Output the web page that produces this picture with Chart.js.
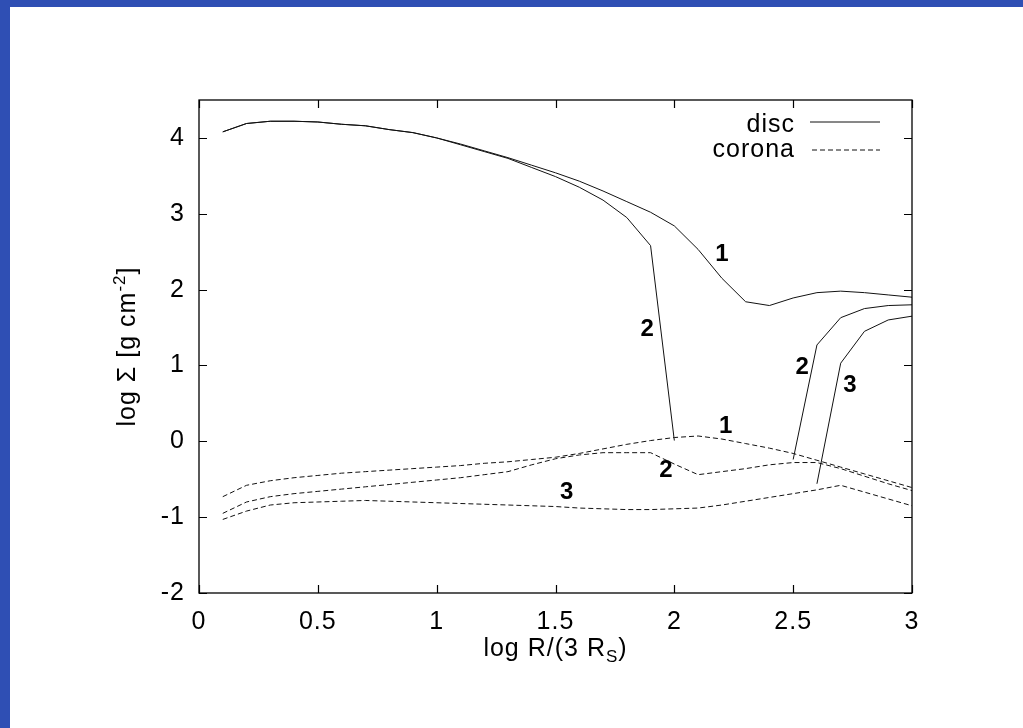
<!DOCTYPE html>
<html>
<head>
<meta charset="utf-8">
<script src="https://cdn.jsdelivr.net/npm/chart.js@4/dist/chart.umd.min.js"></script>
<style>
  html, body { margin: 0; padding: 0; width: 1023px; height: 728px; overflow: hidden; background: #2f4fb4; }
  #slide { position: absolute; left: 10px; top: 7px; width: 1013px; height: 721px; background: #fff; }
  canvas { display: block; }
</style>
</head>
<body>
<div id="slide"><canvas id="chart" width="1013" height="721"></canvas></div>
<script>
// log R/(3 R_S) sample points
const logR = [0.1, 0.2, 0.3, 0.4, 0.5, 0.6, 0.7, 0.8, 0.9, 1.0,
              1.1, 1.2, 1.3, 1.4, 1.5, 1.6, 1.7, 1.8, 1.9, 2.0,
              2.1, 2.2, 2.3, 2.4, 2.5, 2.6, 2.7, 2.8, 2.9, 3.0];

// disc surface density, models 1-3 (null = no disc)
const disc1 = [4.08, 4.19, 4.22, 4.22, 4.21, 4.18, 4.16, 4.11, 4.07, 4.00,
               3.92, 3.83, 3.74, 3.64, 3.54, 3.43, 3.30, 3.16, 3.02, 2.84,
               2.53, 2.15, 1.84, 1.79, 1.89, 1.96, 1.98, 1.96, 1.93, 1.90];
const disc2 = [4.08, 4.19, 4.22, 4.22, 4.21, 4.18, 4.16, 4.11, 4.07, 4.00,
               3.91, 3.82, 3.73, 3.61, 3.49, 3.35, 3.18, 2.95, 2.58, 0.01,
               null, null, null, null, -0.24, 1.27, 1.63, 1.75, 1.79, 1.80];
const disc3 = [null, null, null, null, null, null, null, null, null, null,
               null, null, null, null, null, null, null, null, null, null,
               null, null, null, null, null, -0.56, 1.03, 1.45, 1.60, 1.65];

// corona surface density, models 1-3
const corona1 = [-0.73, -0.58, -0.52, -0.48, -0.45, -0.42, -0.40, -0.38, -0.36, -0.34,
                 -0.32, -0.29, -0.27, -0.24, -0.21, -0.16, -0.10, -0.04, 0.01, 0.05,
                 0.07, 0.03, -0.03, -0.09, -0.16, -0.25, -0.34, -0.43, -0.52, -0.61];
const corona2 = [-0.95, -0.80, -0.73, -0.69, -0.66, -0.63, -0.60, -0.57, -0.54, -0.51,
                 -0.48, -0.44, -0.40, -0.31, -0.23, -0.18, -0.15, -0.15, -0.15, -0.30,
                 -0.44, -0.40, -0.36, -0.31, -0.28, -0.28, -0.36, -0.46, -0.56, -0.65];
const corona3 = [-1.03, -0.92, -0.84, -0.81, -0.80, -0.79, -0.78, -0.79, -0.80, -0.81,
                 -0.82, -0.83, -0.84, -0.85, -0.86, -0.88, -0.89, -0.90, -0.90, -0.89,
                 -0.88, -0.84, -0.79, -0.74, -0.69, -0.64, -0.58, -0.67, -0.76, -0.85];

const xTicks = [0, 0.5, 1, 1.5, 2, 2.5, 3];
const yTicks = [-2, -1, 0, 1, 2, 3, 4];

// model numbers written next to the curves (data coordinates)
const curveTags = [
  { text: '1', x: 2.20, y: 2.46 },
  { text: '2', x: 1.886, y: 1.47 },
  { text: '2', x: 2.538, y: 0.98 },
  { text: '3', x: 2.739, y: 0.74 },
  { text: '1', x: 2.216, y: 0.20 },
  { text: '2', x: 1.965, y: -0.38 },
  { text: '3', x: 1.547, y: -0.67 }
];

const FONT = '"Liberation Sans", Arial, Helvetica, sans-serif';
const INK = '#111';
const DASH = [5, 3];
const TICK = 8;
const SPACING = '1px';

const toPoints = ys => logR.map((x, i) => ({ x, y: ys[i] }));

function discSet(ys) {
  return { data: toPoints(ys), borderColor: INK, borderWidth: 1, pointRadius: 0, tension: 0, spanGaps: false };
}
function coronaSet(ys) {
  return { ...discSet(ys), borderDash: DASH };
}

// draws text runs with sub/superscripts, centred on (x, y)
function drawRich(ctx, runs, x, y) {
  let w = 0;
  runs.forEach(r => { ctx.font = r.font; w += ctx.measureText(r.t).width; });
  let cx = x - w / 2;
  ctx.textAlign = 'left';
  runs.forEach(r => {
    ctx.font = r.font;
    ctx.fillText(r.t, cx, y + (r.dy || 0));
    cx += ctx.measureText(r.t).width;
  });
}

const decorPlugin = {
  id: 'decor',
  beforeDraw(chart) {
    chart.ctx.letterSpacing = SPACING;
  },
  afterDraw(chart) {
    const { ctx, chartArea: a, scales: { x, y } } = chart;
    ctx.save();
    ctx.letterSpacing = SPACING;
    ctx.strokeStyle = '#000';
    ctx.fillStyle = '#000';

    // frame + inward ticks on all sides
    ctx.lineWidth = 1.3;
    ctx.strokeRect(a.left, a.top, a.right - a.left, a.bottom - a.top);
    ctx.lineWidth = 1.2;
    ctx.beginPath();
    xTicks.forEach(v => {
      const px = Math.round(x.getPixelForValue(v)) + 0.5;
      ctx.moveTo(px, a.bottom); ctx.lineTo(px, a.bottom - TICK);
      ctx.moveTo(px, a.top); ctx.lineTo(px, a.top + TICK);
    });
    yTicks.forEach(v => {
      const py = Math.round(y.getPixelForValue(v)) + 0.5;
      ctx.moveTo(a.left, py); ctx.lineTo(a.left + TICK, py);
      ctx.moveTo(a.right, py); ctx.lineTo(a.right - TICK, py);
    });
    ctx.stroke();

    // key
    ctx.font = '25px ' + FONT;
    ctx.textAlign = 'right';
    ctx.textBaseline = 'alphabetic';
    ctx.fillText('disc', 785, 125);
    ctx.fillText('corona', 785, 150);
    ctx.strokeStyle = INK;
    ctx.lineWidth = 1;
    ctx.beginPath(); ctx.moveTo(800, 115); ctx.lineTo(870, 115); ctx.stroke();
    ctx.setLineDash(DASH);
    ctx.beginPath(); ctx.moveTo(802, 143); ctx.lineTo(870, 143); ctx.stroke();
    ctx.setLineDash([]);

    // curve numbers
    ctx.letterSpacing = '0px';
    ctx.font = 'bold 24px ' + FONT;
    ctx.textAlign = 'center';
    ctx.textBaseline = 'middle';
    curveTags.forEach(t => ctx.fillText(t.text, x.getPixelForValue(t.x), y.getPixelForValue(t.y)));
    ctx.letterSpacing = SPACING;

    // axis titles
    ctx.textBaseline = 'alphabetic';
    const big = '25px ' + FONT, small = '17px ' + FONT;
    drawRich(ctx, [
      { t: 'log R/(3 R', font: big },
      { t: 'S', font: small, dy: 6 },
      { t: ')', font: big }
    ], (a.left + a.right) / 2, 649);

    ctx.save();
    ctx.translate(125, (a.top + a.bottom) / 2);
    ctx.rotate(-Math.PI / 2);
    drawRich(ctx, [
      { t: 'log \u03A3 [g cm', font: big },
      { t: '-2', font: small, dy: -10 },
      { t: ']', font: big }
    ], 0, 0);
    ctx.restore();

    ctx.restore();
  }
};

new Chart(document.getElementById('chart'), {
  type: 'line',
  data: {
    datasets: [
      discSet(disc1), discSet(disc2), discSet(disc3),
      coronaSet(corona1), coronaSet(corona2), coronaSet(corona3)
    ]
  },
  options: {
    responsive: false,
    animation: false,
    layout: { padding: { left: 0, top: 93, right: 111, bottom: 0 } },
    plugins: { legend: { display: false }, tooltip: { enabled: false } },
    scales: {
      x: {
        type: 'linear', min: 0, max: 3,
        afterBuildTicks: s => { s.ticks = xTicks.map(v => ({ value: v })); },
        afterFit: s => { s.height = 135; },
        grid: { display: false, drawTicks: false },
        border: { display: false },
        ticks: { font: { family: FONT, size: 25 }, color: '#000', padding: 14, maxRotation: 0, callback: v => String(v) }
      },
      y: {
        type: 'linear', min: -2, max: 4.5,
        afterBuildTicks: s => { s.ticks = yTicks.map(v => ({ value: v })); },
        afterFit: s => { s.width = 189; },
        grid: { display: false, drawTicks: false },
        border: { display: false },
        ticks: { font: { family: FONT, size: 25 }, color: '#000', padding: 14, callback: v => String(v) }
      }
    }
  },
  plugins: [decorPlugin]
});
</script>
</body>
</html>
